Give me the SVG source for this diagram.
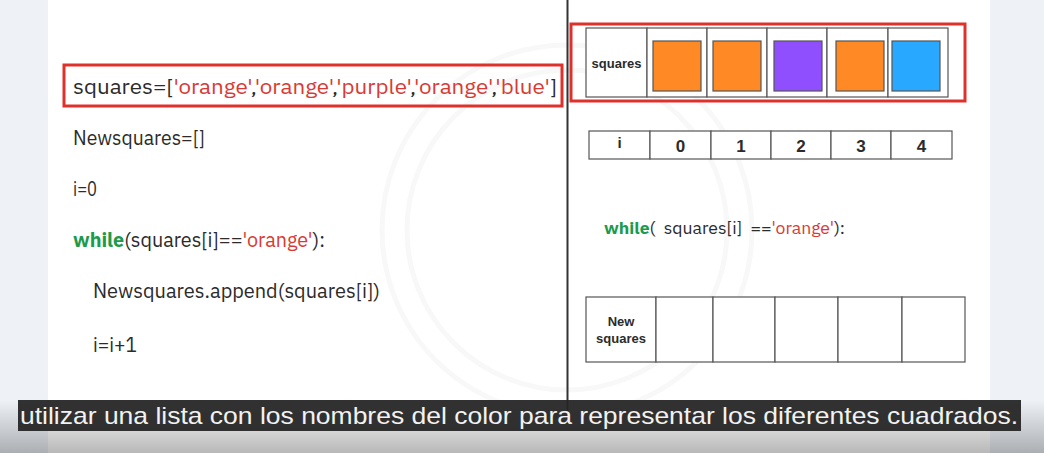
<svg xmlns="http://www.w3.org/2000/svg" width="1044" height="453" viewBox="0 0 1044 453">
<defs>
<linearGradient id="fade" x1="0" y1="0" x2="0" y2="1">
<stop offset="0" stop-color="#000" stop-opacity="0"/>
<stop offset="1" stop-color="#000" stop-opacity="0.28"/>
</linearGradient>
<style>
.code{font-family:"IBM Plex Sans","Noto Sans","Liberation Sans",sans-serif;font-size:20px;fill:#2b2b2b}
.str{fill:#d93a34}
.kw{fill:#1c9b4c;font-weight:bold}
.red{fill:none;stroke:#e0302c;stroke-width:3}
.cell{fill:#fff;stroke:#555;stroke-width:1.2}
.lbl{font-family:"Liberation Sans",Arial,sans-serif;font-weight:bold;font-size:13px;fill:#2b2b2b;text-anchor:middle}
.num{font-family:"Liberation Sans",Arial,sans-serif;font-weight:bold;font-size:17px;fill:#2b2b2b;text-anchor:middle}
.sq{stroke:#555;stroke-width:1.2}
.sub{font-family:"Liberation Sans Narrow","Liberation Sans",Arial,sans-serif;font-size:24px;fill:#f2f2f2}
</style>
</defs>
<rect x="0" y="0" width="1044" height="453" fill="#eef2f7"/>
<rect x="48" y="0" width="942" height="453" fill="#ffffff"/>
<g fill="none" stroke="#f8f8f8" stroke-width="5">
<circle cx="567" cy="230" r="185"/>
<circle cx="567" cy="230" r="160"/>
</g>
<rect x="0" y="400" width="1044" height="53" fill="url(#fade)"/>
<line x1="567.5" y1="0" x2="567.5" y2="412" stroke="#333" stroke-width="2"/>

<g id="code-left">
<rect class="red" x="64" y="65" width="498" height="41"/>
<text class="code" x="73" y="94" textLength="484" lengthAdjust="spacingAndGlyphs">squares=[<tspan class="str">'orange'</tspan>,<tspan class="str">'orange'</tspan>,<tspan class="str">'purple'</tspan>,<tspan class="str">'orange'</tspan>,<tspan class="str">'blue'</tspan>]</text>
<text class="code" x="73" y="145" textLength="132" lengthAdjust="spacingAndGlyphs">Newsquares=[]</text>
<text class="code" x="73" y="196" textLength="24" lengthAdjust="spacingAndGlyphs">i=0</text>
<text class="code" x="73" y="247" textLength="252" lengthAdjust="spacingAndGlyphs"><tspan class="kw">while</tspan>(squares[i]==<tspan class="str">'orange'</tspan>):</text>
<text class="code" x="93" y="298" textLength="287" lengthAdjust="spacingAndGlyphs">Newsquares.append(squares[i])</text>
<text class="code" x="93" y="352" textLength="44" lengthAdjust="spacingAndGlyphs">i=i+1</text>
</g>

<g id="squares-table">
<rect class="red" x="571" y="24" width="394" height="77"/>
<rect class="cell" x="586" y="28" width="61" height="69"/>
<rect class="cell" x="647" y="28" width="60" height="69"/>
<rect class="cell" x="707" y="28" width="60" height="69"/>
<rect class="cell" x="767" y="28" width="60" height="69"/>
<rect class="cell" x="827" y="28" width="61" height="69"/>
<rect class="cell" x="888" y="28" width="60" height="69"/>
<text class="lbl" x="616.5" y="68">squares</text>
<rect class="sq" x="653" y="41" width="48" height="50" fill="#ff8a25"/>
<rect class="sq" x="713" y="41" width="48" height="50" fill="#ff8a25"/>
<rect class="sq" x="774" y="41" width="48" height="50" fill="#8f4fff"/>
<rect class="sq" x="836" y="41" width="48" height="50" fill="#ff8a25"/>
<rect class="sq" x="892" y="41" width="48" height="50" fill="#28a8ff"/>
</g>

<g id="index-table">
<rect class="cell" x="589" y="131" width="61" height="28"/>
<rect class="cell" x="650" y="131" width="61" height="28"/>
<rect class="cell" x="711" y="131" width="60" height="28"/>
<rect class="cell" x="771" y="131" width="60" height="28"/>
<rect class="cell" x="831" y="131" width="60" height="28"/>
<rect class="cell" x="891" y="131" width="61" height="28"/>
<text class="num" x="619.5" y="148" style="font-size:15px">i</text>
<text class="num" x="680.5" y="152">0</text>
<text class="num" x="741" y="152">1</text>
<text class="num" x="801" y="152">2</text>
<text class="num" x="861" y="152">3</text>
<text class="num" x="921.5" y="152">4</text>
</g>

<g id="while-right">
<text class="code" x="604" y="234" style="font-size:16px;white-space:pre" xml:space="preserve" textLength="241" lengthAdjust="spacingAndGlyphs"><tspan class="kw">while</tspan>(  squares[i]  ==<tspan class="str">'orange'</tspan>):</text>
</g>

<g id="newsquares-table">
<rect class="cell" x="586" y="297" width="70" height="65"/>
<rect class="cell" x="656" y="297" width="57" height="65"/>
<rect class="cell" x="713" y="297" width="62" height="65"/>
<rect class="cell" x="775" y="297" width="63" height="65"/>
<rect class="cell" x="838" y="297" width="64" height="65"/>
<rect class="cell" x="902" y="297" width="63" height="65"/>
<text class="lbl" x="621" y="326">New</text>
<text class="lbl" x="621" y="343">squares</text>
</g>

<g id="connectors"></g>

<g id="subtitle">
<rect x="18" y="400" width="1003" height="31" fill="#262626" fill-opacity="0.95"/>
<text class="sub" x="20" y="424" textLength="998" lengthAdjust="spacingAndGlyphs">utilizar una lista con los nombres del color para representar los diferentes cuadrados.</text>
</g>
</svg>
